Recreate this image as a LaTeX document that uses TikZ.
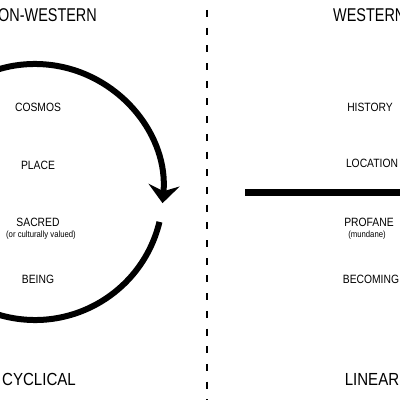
\documentclass[tikz,border=0pt]{standalone}
\usepackage{fontspec}
\setmainfont{Liberation Sans}[FakeStretch=0.86]
\newfontfamily\titlefont{Liberation Sans}[FakeStretch=0.78]
\usetikzlibrary{arrows.meta}
\tikzset{
  lbl/.style={inner sep=0pt, anchor=base, font=\fontsize{12}{12}\selectfont},
  small/.style={inner sep=0pt, anchor=base, font=\fontsize{9}{9}\selectfont},
  big/.style={inner sep=0pt, anchor=base, font=\fontsize{17.5}{17.5}\selectfont},
  ttl/.style={inner sep=0pt, font=\titlefont\fontsize{18.5}{18.5}\selectfont},
  thick line/.style={line width=6pt},
  divider/.style={line width=2pt, dash pattern=on 7pt off 10.7pt},
}
\begin{document}
\begin{tikzpicture}[x=1pt,y=1pt]
\useasboundingbox (0,0) rectangle (400,400);
\clip (0,0) rectangle (400,400);
% titles
\node[ttl, anchor=base east] (tnw) at (97,378) {NON-WESTERN};
\node[ttl, anchor=base west] (tw) at (333,378) {WESTERN};
% divider
\coordinate (dtop) at (207,390);
\coordinate (dbot) at (207,0);
\draw[divider] (dtop) -- (dbot);
% cycle
\coordinate (cc) at (35,208);
\draw[thick line, -{Stealth[length=18pt, width=31pt, inset=6pt]}]
  ([shift={(170:128)}]cc) arc[start angle=170, end angle=-5, radius=128];
\draw[thick line]
  ([shift={(-13.5:128)}]cc) arc[start angle=-13.5, end angle=-190, radius=128];
% linear
\coordinate (la) at (245,207);
\coordinate (lb) at (402,207);
\draw[line width=7pt] (la) -- (lb);
% left labels
\node[lbl] (cosmos) at (38,288) {COSMOS};
\node[lbl] (place) at (38,230) {PLACE};
\node[lbl] (sacred) at (38,173) {SACRED};
\node[small] (valued) at (41,162) {(or culturally valued)};
\node[lbl] (being) at (38,117) {BEING};
\node[big] (cyc) at (39,14) {CYCLICAL};
% right labels
\node[lbl] (hist) at (370,288) {HISTORY};
\node[lbl] (loc) at (372,232) {LOCATION};
\node[lbl] (prof) at (369,173) {PROFANE};
\node[small] (mund) at (367,162) {(mundane)};
\node[lbl] (becoming) at (371,117) {BECOMING};
\node[big] (lin) at (372,15) {LINEAR};
\end{tikzpicture}
\end{document}
